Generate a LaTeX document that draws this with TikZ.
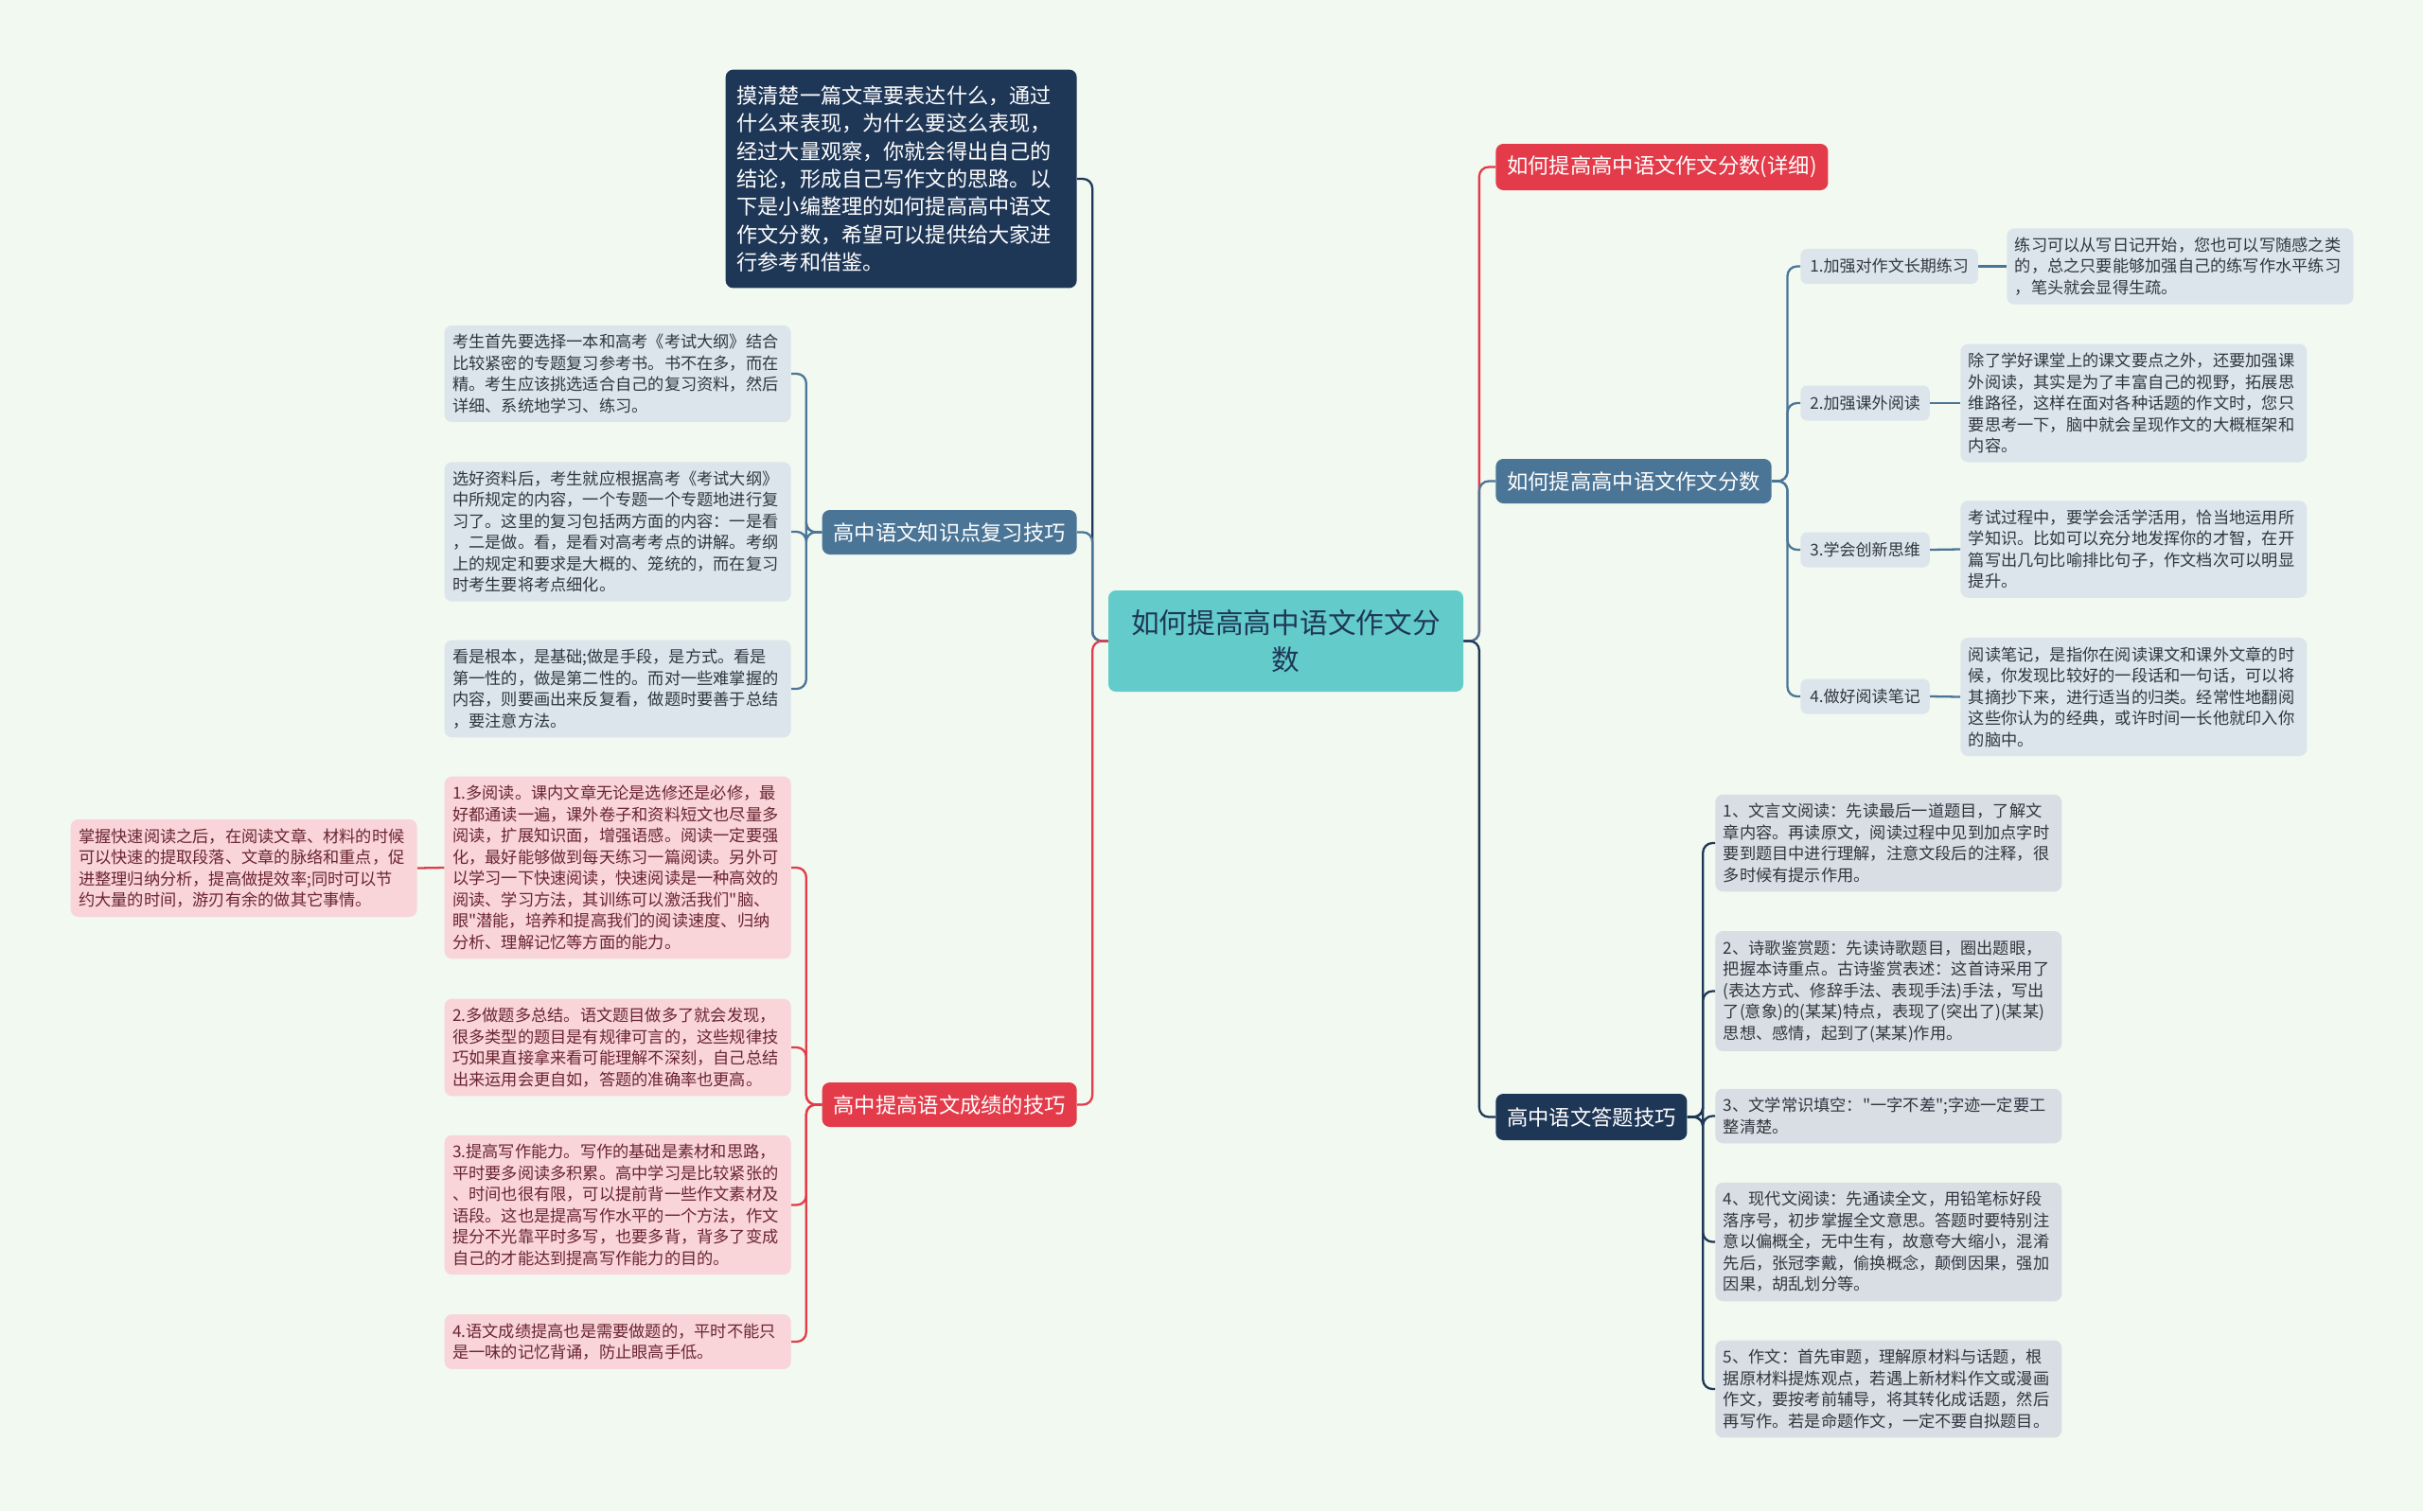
\documentclass[tikz,border=0pt]{standalone}
\usepackage{fontspec}
\usepackage{xcolor}
\usetikzlibrary{positioning,calc}
\newfontfamily\zhfont{Noto Sans CJK SC}
\definecolor{bgmint}{HTML}{F1F9F0}
\definecolor{navy}{HTML}{1F3757}
\definecolor{steel}{HTML}{4B7596}
\definecolor{rosered}{HTML}{E33B4A}
\definecolor{tealbox}{HTML}{63CCCB}
\definecolor{leafblue}{HTML}{DCE5EC}
\definecolor{leafpink}{HTML}{F9D4D9}
\definecolor{leafgray}{HTML}{D9DEE4}
\definecolor{inkpink}{HTML}{6A2530}
\definecolor{inkgray}{HTML}{2F3640}

\begin{document}
\begin{tikzpicture}[
  leaf/.style={rounded corners=0.16cm, inner xsep=0.17cm, inner ysep=0.19cm,
    text width=6.98cm, align=left, text=inkgray,
    font=\zhfont\fontsize{9.8}{12.8}\selectfont},
  blueleaf/.style={leaf, fill=leafblue},
  pinkleaf/.style={leaf, fill=leafpink, text=inkpink},
  grayleaf/.style={leaf, fill=leafgray},
  topic/.style={rounded corners=0.16cm, text=white, inner xsep=0.235cm,
    minimum height=0.94cm, font=\zhfont\fontsize{12.7}{15}\selectfont},
  tag/.style={rounded corners=0.14cm, fill=leafblue, text=inkgray, inner xsep=0.2cm,
    minimum height=0.74cm, font=\zhfont\fontsize{9.7}{12}\selectfont},
  link/.style={line width=1.3pt, rounded corners=0.2cm}]

\fill[bgmint] (0,0) rectangle (51.2,-31.94);
\useasboundingbox (0,0) rectangle (51.2,-31.94);

% centre
\node[fill=tealbox, rounded corners=0.16cm, minimum width=7.5cm, minimum height=2.14cm,
  align=center, text=navy, font=\zhfont\fontsize{16.9}{22}\selectfont]
  (ctr) at (27.17,-13.55) {如何提高高中语文作文分\\数};

% left side
\node[rounded corners=0.16cm, fill=navy, text=white, text width=6.94cm,
  inner xsep=0.24cm, inner ysep=0.34cm, align=left,
  font=\zhfont\fontsize{12.6}{16.7}\selectfont, anchor=east]
  (intro) at (22.76,-3.78) {摸清楚一篇文章要表达什么，通过\\
  什么来表现，为什么要这么表现，\\
  经过大量观察，你就会得出自己的\\
  结论，形成自己写作文的思路。以\\
  下是小编整理的如何提高高中语文\\
  作文分数，希望可以提供给大家进\\
  行参考和借鉴。};

\node[topic, fill=steel, anchor=east] (b1) at (22.76,-11.25) {高中语文知识点复习技巧};
\node[topic, fill=rosered, anchor=east] (b2) at (22.76,-23.35) {高中提高语文成绩的技巧};

\node[blueleaf, anchor=east] (l1) at (16.72,-7.9) {考生首先要选择一本和高考《考试大纲》结合\\
  比较紧密的专题复习参考书。书不在多，而在\\
  精。考生应该挑选适合自己的复习资料，然后\\
  详细、系统地学习、练习。};
\node[blueleaf, anchor=east] (l2) at (16.72,-11.24) {选好资料后，考生就应根据高考《考试大纲》\\
  中所规定的内容，一个专题一个专题地进行复\\
  习了。这里的复习包括两方面的内容：一是看\\
  ，二是做。看，是看对高考考点的讲解。考纲\\
  上的规定和要求是大概的、笼统的，而在复习\\
  时考生要将考点细化。};
\node[blueleaf, anchor=east] (l3) at (16.72,-14.56) {看是根本，是基础;做是手段，是方式。看是\\
  第一性的，做是第二性的。而对一些难掌握的\\
  内容，则要画出来反复看，做题时要善于总结\\
  ，要注意方法。};

\node[pinkleaf, anchor=east] (p1) at (16.72,-18.34) {1.多阅读。课内文章无论是选修还是必修，最\\
  好都通读一遍，课外卷子和资料短文也尽量多\\
  阅读，扩展知识面，增强语感。阅读一定要强\\
  化，最好能够做到每天练习一篇阅读。另外可\\
  以学习一下快速阅读，快速阅读是一种高效的\\
  阅读、学习方法，其训练可以激活我们"脑、\\
  眼"潜能，培养和提高我们的阅读速度、归纳\\
  分析、理解记忆等方面的能力。};
\node[pinkleaf, anchor=east] (p2) at (16.72,-22.14) {2.多做题多总结。语文题目做多了就会发现，\\
  很多类型的题目是有规律可言的，这些规律技\\
  巧如果直接拿来看可能理解不深刻，自己总结\\
  出来运用会更自如，答题的准确率也更高。};
\node[pinkleaf, anchor=east] (p3) at (16.72,-25.47) {3.提高写作能力。写作的基础是素材和思路，\\
  平时要多阅读多积累。高中学习是比较紧张的\\
  、时间也很有限，可以提前背一些作文素材及\\
  语段。这也是提高写作水平的一个方法，作文\\
  提分不光靠平时多写，也要多背，背多了变成\\
  自己的才能达到提高写作能力的目的。};
\node[pinkleaf, anchor=east] (p4) at (16.72,-28.36) {4.语文成绩提高也是需要做题的，平时不能只\\
  是一味的记忆背诵，防止眼高手低。};
\node[pinkleaf, anchor=east] (p0) at (8.82,-18.35) {掌握快速阅读之后，在阅读文章、材料的时候\\
  可以快速的提取段落、文章的脉络和重点，促\\
  进整理归纳分析，提高做提效率;同时可以节\\
  约大量的时间，游刃有余的做其它事情。};

% right side
\node[topic, fill=rosered, anchor=west, minimum height=0.98cm] (r1) at (31.6,-3.53) {如何提高高中语文作文分数(详细)};
\node[topic, fill=steel, anchor=west] (r2) at (31.6,-10.17) {如何提高高中语文作文分数};
\node[topic, fill=navy, anchor=west, minimum height=0.98cm] (r3) at (31.6,-23.61) {高中语文答题技巧};

\node[tag, anchor=west] (s1) at (38.04,-5.63) {1.加强对作文长期练习};
\node[tag, anchor=west] (s2) at (38.04,-8.52) {2.加强课外阅读};
\node[tag, anchor=west] (s3) at (38.04,-11.62) {3.学会创新思维};
\node[tag, anchor=west] (s4) at (38.04,-14.72) {4.做好阅读笔记};

\node[blueleaf, anchor=west] (d1) at (42.4,-5.63) {练习可以从写日记开始，您也可以写随感之类\\
  的，总之只要能够加强自己的练写作水平练习\\
  ，笔头就会显得生疏。};
\node[blueleaf, anchor=west] (d2) at (41.42,-8.52) {除了学好课堂上的课文要点之外，还要加强课\\
  外阅读，其实是为了丰富自己的视野，拓展思\\
  维路径，这样在面对各种话题的作文时，您只\\
  要思考一下，脑中就会呈现作文的大概框架和\\
  内容。};
\node[blueleaf, anchor=west] (d3) at (41.42,-11.61) {考试过程中，要学会活学活用，恰当地运用所\\
  学知识。比如可以充分地发挥你的才智，在开\\
  篇写出几句比喻排比句子，作文档次可以明显\\
  提升。};
\node[blueleaf, anchor=west] (d4) at (41.42,-14.73) {阅读笔记，是指你在阅读课文和课外文章的时\\
  候，你发现比较好的一段话和一句话，可以将\\
  其摘抄下来，进行适当的归类。经常性地翻阅\\
  这些你认为的经典，或许时间一长他就印入你\\
  的脑中。};

\node[grayleaf, anchor=west] (a1) at (36.24,-17.82) {1、文言文阅读：先读最后一道题目，了解文\\
  章内容。再读原文，阅读过程中见到加点字时\\
  要到题目中进行理解，注意文段后的注释，很\\
  多时候有提示作用。};
\node[grayleaf, anchor=west] (a2) at (36.24,-20.95) {2、诗歌鉴赏题：先读诗歌题目，圈出题眼，\\
  把握本诗重点。古诗鉴赏表述：这首诗采用了\\
  (表达方式、修辞手法、表现手法)手法，写出\\
  了(意象)的(某某)特点，表现了(突出了)(某某)\\
  思想、感情，起到了(某某)作用。};
\node[grayleaf, anchor=west] (a3) at (36.24,-23.59) {3、文学常识填空："一字不差";字迹一定要工\\
  整清楚。};
\node[grayleaf, anchor=west] (a4) at (36.24,-26.25) {4、现代文阅读：先通读全文，用铅笔标好段\\
  落序号，初步掌握全文意思。答题时要特别注\\
  意以偏概全，无中生有，故意夸大缩小，混淆\\
  先后，张冠李戴，偷换概念，颠倒因果，强加\\
  因果，胡乱划分等。};
\node[grayleaf, anchor=west] (a5) at (36.24,-29.36) {5、作文：首先审题，理解原材料与话题，根\\
  据原材料提炼观点，若遇上新材料作文或漫画\\
  作文，要按考前辅导，将其转化成话题，然后\\
  再写作。若是命题作文，一定不要自拟题目。};

% connectors
\draw[link, navy] (ctr.west) -- ++(-0.33,0) |- (intro.east);
\draw[link, steel] (ctr.west) -- ++(-0.33,0) |- (b1.east);
\draw[link, rosered] (ctr.west) -- ++(-0.33,0) |- (b2.east);
\foreach \n in {l1,l2,l3}
  \draw[link, steel] (b1.west) -- ++(-0.33,0) |- (\n.east);
\foreach \n in {p1,p2,p3,p4}
  \draw[link, rosered] (b2.west) -- ++(-0.33,0) |- (\n.east);
\draw[link, rosered] (p1.west) -- (p0.east);

\draw[link, rosered] (ctr.east) -- ++(0.33,0) |- (r1.west);
\draw[link, steel] (ctr.east) -- ++(0.33,0) |- (r2.west);
\draw[link, navy] (ctr.east) -- ++(0.33,0) |- (r3.west);
\foreach \n in {s1,s2,s3,s4}
  \draw[link, steel] (r2.east) -- ++(0.33,0) |- (\n.west);
\foreach \n/\m in {s1/d1,s2/d2,s3/d3,s4/d4}
  \draw[link, steel] (\n.east) -- (\m.west);
\foreach \n in {a1,a2,a3,a4,a5}
  \draw[link, navy] (r3.east) -- ++(0.33,0) |- (\n.west);

\end{tikzpicture}
\end{document}
